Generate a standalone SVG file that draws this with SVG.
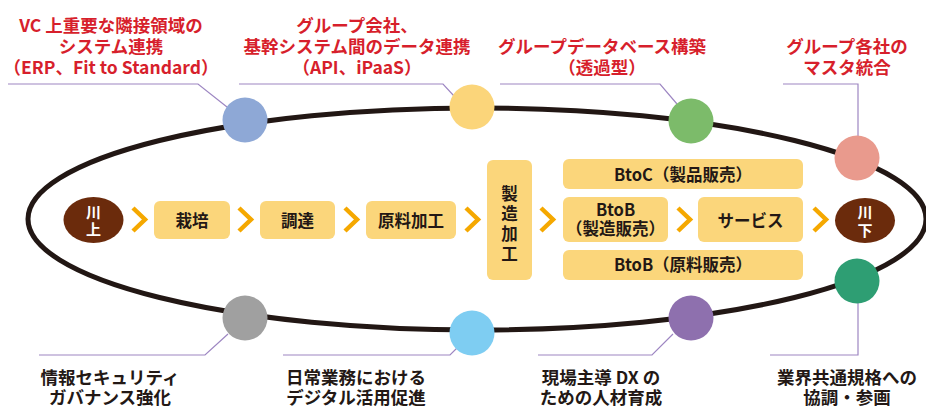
<svg xmlns="http://www.w3.org/2000/svg" width="926" height="406" viewBox="0 0 926 406">
<style>
text{font-family:"Noto Sans CJK JP","Noto Sans",sans-serif;font-weight:700;}
.red{fill:#D71F2C;font-size:17.5px;text-anchor:middle;}
.dark{fill:#231815;font-size:17.5px;text-anchor:middle;}
.box{fill:#FBD67B;}
.bt{fill:#231815;font-size:16.5px;text-anchor:middle;}
.end{fill:#6B2B0C;}
.et{fill:#FFFFFF;font-size:15px;text-anchor:middle;}
.lead{fill:none;stroke:#9D86C2;stroke-width:1.2;}
.chev{fill:none;stroke:#F5A800;stroke-width:4.5;stroke-linejoin:miter;}
.ring{fill:none;stroke:#221714;stroke-width:5;}
</style>
<defs>
<path id="chev" d="M0,0 L12,11.5 L0,23" class="chev"/>
</defs>
<rect width="926" height="406" fill="#FFFFFF"/>
<ellipse class="ring" cx="477" cy="219" rx="449" ry="111"/>

<g id="connectors">
<polyline class="lead" points="8,84 198,84 227,107"/>
<polyline class="lead" points="239,84 443,84 454,96"/>
<polyline class="lead" points="500,84 660,84 677,104"/>
<polyline class="lead" points="783,84 858,84 858,137"/>
<polyline class="lead" points="39,355 205,355 228,334"/>
<polyline class="lead" points="283,355 450,355 458,347"/>
<polyline class="lead" points="538,355 652,355 673,334"/>
<polyline class="lead" points="770,355 858,355 858,303"/>
<use href="#chev" x="133" y="208"/>
<use href="#chev" x="239" y="208"/>
<use href="#chev" x="345" y="208"/>
<use href="#chev" x="466" y="208"/>
<use href="#chev" x="541" y="208"/>
<use href="#chev" x="678" y="208"/>
<use href="#chev" x="814" y="208"/>
</g>

<g id="c-blue"><circle cx="245" cy="120" r="22.5" fill="#8EA8D6"/></g>
<g id="c-yellow"><circle cx="472" cy="107" r="22.5" fill="#FBD57A"/></g>
<g id="c-green"><circle cx="691" cy="121" r="22.5" fill="#7CBB6A"/></g>
<g id="c-pink"><circle cx="857" cy="158" r="22.5" fill="#E99A8D"/></g>
<g id="c-darkgreen"><circle cx="857" cy="281" r="22.5" fill="#2E9E73"/></g>
<g id="c-purple"><circle cx="691" cy="318" r="22.5" fill="#8E70AE"/></g>
<g id="c-lightblue"><circle cx="472" cy="333" r="22.5" fill="#7ECDF2"/></g>
<g id="c-gray"><circle cx="245" cy="318" r="22.5" fill="#A0A0A0"/></g>

<g id="label-1">
<text class="red" x="111" y="31.5">VC 上重要な隣接領域の</text>
<text class="red" x="111" y="52.5">システム連携</text>
<text class="red" x="111" y="73.5">（ERP、Fit to Standard）</text>
</g>
<g id="label-2">
<text class="red" x="357" y="31.5">グループ会社、</text>
<text class="red" x="357" y="52.5">基幹システム間のデータ連携</text>
<text class="red" x="357" y="73.5">（API、iPaaS）</text>
</g>
<g id="label-3">
<text class="red" x="602" y="52.5">グループデータベース構築</text>
<text class="red" x="602" y="73.5">（透過型）</text>
</g>
<g id="label-4">
<text class="red" x="847" y="52.5">グループ各社の</text>
<text class="red" x="847" y="73.5">マスタ統合</text>
</g>
<g id="label-5">
<text class="dark" x="110" y="383.5">情報セキュリティ</text>
<text class="dark" x="110" y="403.5">ガバナンス強化</text>
</g>
<g id="label-6">
<text class="dark" x="356" y="383.5">日常業務における</text>
<text class="dark" x="356" y="403.5">デジタル活用促進</text>
</g>
<g id="label-7">
<text class="dark" x="601" y="383.5">現場主導 DX の</text>
<text class="dark" x="601" y="403.5">ための人材育成</text>
</g>
<g id="label-8">
<text class="dark" x="847" y="383.5">業界共通規格への</text>
<text class="dark" x="847" y="403.5">協調・参画</text>
</g>

<g id="upstream">
<ellipse class="end" cx="93.5" cy="220" rx="30" ry="23"/>
<text class="et" x="93.5" y="218">川</text>
<text class="et" x="93.5" y="235">上</text>
</g>
<g id="saibai">
<rect class="box" x="154" y="201" width="76" height="38" rx="6"/>
<text class="bt" x="192" y="226.5">栽培</text>
</g>
<g id="chotatsu">
<rect class="box" x="260" y="201" width="75" height="38" rx="6"/>
<text class="bt" x="297.5" y="226.5">調達</text>
</g>
<g id="genryo">
<rect class="box" x="366" y="201" width="90" height="38" rx="6"/>
<text class="bt" x="411" y="226.5">原料加工</text>
</g>
<g id="seizo">
<rect class="box" x="487" y="160" width="45" height="120" rx="6"/>
<text class="bt" x="509.5" y="200">製</text>
<text class="bt" x="509.5" y="220">造</text>
<text class="bt" x="509.5" y="240">加</text>
<text class="bt" x="509.5" y="260">工</text>
</g>
<g id="btoc">
<rect class="box" x="563" y="159" width="240" height="30" rx="6"/>
<text class="bt" x="683" y="180.5">BtoC（製品販売）</text>
</g>
<g id="btob-seizo">
<rect class="box" x="563" y="197" width="105" height="45" rx="6"/>
<text class="bt" x="615.5" y="216">BtoB</text>
<text class="bt" x="615.5" y="235">（製造販売）</text>
</g>
<g id="service">
<rect class="box" x="698" y="197" width="105" height="45" rx="6"/>
<text class="bt" x="750.5" y="226.5">サービス</text>
</g>
<g id="btob-genryo">
<rect class="box" x="563" y="250" width="240" height="30" rx="6"/>
<text class="bt" x="683" y="271">BtoB（原料販売）</text>
</g>
<g id="downstream">
<ellipse class="end" cx="865" cy="220.5" rx="30" ry="22.5"/>
<text class="et" x="865" y="218">川</text>
<text class="et" x="865" y="236">下</text>
</g>
</svg>
